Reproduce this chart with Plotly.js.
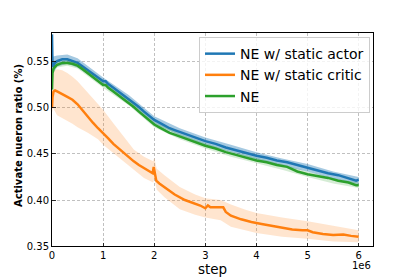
<!DOCTYPE html>
<html><head><meta charset="utf-8">
<script src="https://cdn.plot.ly/plotly-3.0.1.min.js"></script>
<style>html,body{margin:0;padding:0;background:#fff}#chart{width:415px;height:277px}</style>
</head><body><div id="chart"></div>
<script>
// x values in units of 1e6 steps
const seriesNames = ["NE w/ static actor", "NE w/ static critic", "NE"];
const xTickVals = [0, 1, 2, 3, 4, 5, 6];
const xTickText = ["0", "1", "2", "3", "4", "5", "6"];
const yTickVals = [0.35, 0.40, 0.45, 0.50, 0.55];
const yTickText = ["0.35", "0.40", "0.45", "0.50", "0.55"];

const blueX = [0, 0.005, 0.01, 0.03, 0.06, 0.1, 0.2, 0.3, 0.4, 0.5, 0.6, 0.7, 0.8, 0.9, 1.0, 1.05, 1.1, 1.2, 1.3, 1.4, 1.5, 1.6, 1.7, 1.8, 1.9, 2.0, 2.1, 2.2, 2.3, 2.4, 2.5, 2.6, 2.7, 2.8, 2.9, 3.0, 3.2, 3.4, 3.6, 3.8, 4.0, 4.2, 4.4, 4.6, 4.8, 5.0, 5.2, 5.4, 5.6, 5.8, 5.95, 6.0];
const blueY = [0.58, 0.56, 0.545, 0.546, 0.549, 0.551, 0.553, 0.553, 0.551, 0.549, 0.545, 0.541, 0.537, 0.533, 0.529, 0.529, 0.526, 0.522, 0.518, 0.514, 0.510, 0.5055, 0.501, 0.496, 0.491, 0.487, 0.484, 0.481, 0.478, 0.476, 0.474, 0.472, 0.470, 0.468, 0.466, 0.464, 0.461, 0.457, 0.454, 0.451, 0.448, 0.446, 0.443, 0.441, 0.438, 0.435, 0.432, 0.429, 0.427, 0.424, 0.421, 0.422];

const greenX = [0, 0.005, 0.01, 0.03, 0.06, 0.1, 0.2, 0.3, 0.4, 0.5, 0.6, 0.7, 0.8, 0.9, 1.0, 1.05, 1.1, 1.2, 1.3, 1.4, 1.5, 1.6, 1.7, 1.8, 1.9, 2.0, 2.1, 2.2, 2.3, 2.4, 2.5, 2.6, 2.7, 2.8, 2.9, 3.0, 3.2, 3.4, 3.6, 3.8, 4.0, 4.2, 4.4, 4.6, 4.8, 5.0, 5.2, 5.4, 5.6, 5.8, 5.95, 6.0];
const greenY = [0.52, 0.53, 0.538, 0.543, 0.545, 0.547, 0.549, 0.549, 0.548, 0.546, 0.542, 0.538, 0.534, 0.529, 0.525, 0.525, 0.522, 0.518, 0.514, 0.510, 0.506, 0.501, 0.496, 0.491, 0.486, 0.482, 0.479, 0.476, 0.473, 0.471, 0.469, 0.467, 0.465, 0.463, 0.461, 0.459, 0.456, 0.452, 0.449, 0.446, 0.443, 0.441, 0.438, 0.436, 0.431, 0.428, 0.426, 0.424, 0.421, 0.419, 0.416, 0.416];

const orangeX = [0, 0.01, 0.03, 0.06, 0.1, 0.15, 0.2, 0.3, 0.4, 0.5, 0.6, 0.7, 0.8, 0.9, 1.0, 1.1, 1.2, 1.3, 1.4, 1.5, 1.6, 1.7, 1.8, 1.9, 1.97, 1.99, 2.01, 2.04, 2.1, 2.2, 2.4, 2.6, 2.8, 2.9, 3.0, 3.05, 3.1, 3.2, 3.35, 3.4, 3.5, 3.7, 3.9, 4.1, 4.3, 4.5, 4.7, 4.9, 5.0, 5.1, 5.3, 5.5, 5.7, 5.85, 6.0];
const orangeY = [0.500, 0.512, 0.518, 0.519, 0.518, 0.516, 0.515, 0.512, 0.509, 0.504, 0.497, 0.490, 0.484, 0.478, 0.473, 0.467, 0.461, 0.456, 0.451, 0.446, 0.442, 0.438, 0.435, 0.432, 0.429, 0.436, 0.430, 0.421, 0.418, 0.414, 0.406, 0.400, 0.396, 0.394, 0.391, 0.394, 0.392, 0.392, 0.392, 0.387, 0.383, 0.379, 0.376, 0.374, 0.372, 0.370, 0.368, 0.367, 0.367, 0.365, 0.363, 0.362, 0.3625, 0.361, 0.360];

const bandX = [0, 0.02, 0.1, 0.3, 0.5, 1.0, 1.5, 2.0, 2.5, 3.0, 3.5, 4.0, 4.5, 5.0, 5.5, 6.0];
const blueUpper = [0.581, 0.556, 0.557, 0.558, 0.554, 0.533, 0.514, 0.491, 0.478, 0.468, 0.460, 0.452, 0.445, 0.439, 0.431, 0.425];
const blueLower = [0.530, 0.538, 0.545, 0.548, 0.544, 0.525, 0.506, 0.483, 0.470, 0.460, 0.452, 0.444, 0.437, 0.431, 0.423, 0.417];
const greenUpper = [0.523, 0.543, 0.550, 0.552, 0.549, 0.528, 0.509, 0.485, 0.472, 0.462, 0.453, 0.446, 0.439, 0.431, 0.424, 0.419];
const greenLower = [0.517, 0.537, 0.544, 0.546, 0.543, 0.522, 0.503, 0.479, 0.466, 0.456, 0.447, 0.440, 0.433, 0.425, 0.418, 0.413];

const orangeBandX = [0, 0.02, 0.1, 0.2, 0.3, 0.4, 0.5, 0.6, 0.7, 0.8, 0.9, 1.0, 1.2, 1.4, 1.6, 1.8, 1.98, 2.0, 2.05, 2.2, 2.5, 2.8, 3.0, 3.3, 3.5, 3.8, 4.0, 4.5, 5.0, 5.5, 6.0];
const orangeUpper = [0.505, 0.540, 0.542, 0.541, 0.538, 0.534, 0.529, 0.523, 0.517, 0.5105, 0.504, 0.498, 0.4835, 0.469, 0.455, 0.447, 0.442, 0.446, 0.434, 0.427, 0.414, 0.406, 0.402, 0.400, 0.395, 0.389, 0.386, 0.381, 0.377, 0.372, 0.367];
const orangeLower = [0.495, 0.500, 0.492, 0.489, 0.486, 0.483, 0.479, 0.476, 0.473, 0.470, 0.466, 0.460, 0.450, 0.442, 0.433, 0.424, 0.419, 0.423, 0.411, 0.403, 0.390, 0.384, 0.381, 0.378, 0.371, 0.367, 0.364, 0.360, 0.358, 0.355, 0.354];

const colors = ["#1f77b4", "#ff7f0e", "#2ca02c"];
const fills = ["rgba(31,119,180,0.4)", "rgba(255,127,14,0.2)", "rgba(44,160,44,0.2)"];

function band(x, up, lo, fill) {
  return {
    x: x.concat(x.slice().reverse()),
    y: up.concat(lo.slice().reverse()),
    type: "scatter", mode: "lines", fill: "toself", fillcolor: fill,
    line: {width: 0}, hoverinfo: "skip", showlegend: false
  };
}
function line(x, y, i) {
  return {x: x, y: y, type: "scatter", mode: "lines", name: seriesNames[i],
    line: {color: colors[i], width: 2.5}};
}

const data = [
  band(bandX, blueUpper, blueLower, fills[0]), line(blueX, blueY, 0),
  band(orangeBandX, orangeUpper, orangeLower, fills[1]), line(orangeX, orangeY, 1),
  band(bandX, greenUpper, greenLower, fills[2]), line(greenX, greenY, 2)
];

const font = "DejaVu Sans, sans-serif";
const layout = {
  width: 415, height: 277,
  margin: {l: 52, r: 42, t: 33, b: 31, pad: 0},
  paper_bgcolor: "#fff", plot_bgcolor: "#fff",
  font: {family: font, size: 10, color: "#000"},
  showlegend: true,
  legend: {x: 0.9907, xanchor: "right", y: 0.981, yanchor: "top",
    font: {family: font, size: 14, color: "#000"},
    bgcolor: "rgba(255,255,255,0.8)", bordercolor: "#cccccc", borderwidth: 1},
  xaxis: {range: [0, 6.28], tickvals: xTickVals, ticktext: xTickText,
    ticks: "inside", ticklen: 3.5, tickwidth: 0.8, tickcolor: "#000",
    showline: true, linecolor: "#000", linewidth: 1, mirror: true,
    showgrid: true, gridcolor: "#b0b0b0", gridwidth: 0.8, griddash: "3px,2px",
    zeroline: false, tickfont: {size: 10},
    title: {text: "step", font: {size: 13.5}, standoff: 2}},
  yaxis: {range: [0.35, 0.5815], tickvals: yTickVals, ticktext: yTickText,
    ticks: "inside", ticklen: 3.5, tickwidth: 0.8, tickcolor: "#000",
    showline: true, linecolor: "#000", linewidth: 1, mirror: true,
    showgrid: true, gridcolor: "#b0b0b0", gridwidth: 0.8, griddash: "3px,2px",
    zeroline: false, tickfont: {size: 10}},
  annotations: [
    {text: "Activate nueron ratio (%)", textangle: -90, xref: "paper", yref: "paper",
     x: -0.106, y: 0.521, xanchor: "center", yanchor: "middle", showarrow: false,
     font: {size: 10, weight: 700}},
    {text: "1e6", xref: "paper", yref: "paper", x: 1.0, y: -0.09, xanchor: "right",
     yanchor: "middle", showarrow: false, font: {size: 10}}
  ]
};
Plotly.newPlot("chart", data, layout, {displayModeBar: false, staticPlot: true});
</script></body></html>
